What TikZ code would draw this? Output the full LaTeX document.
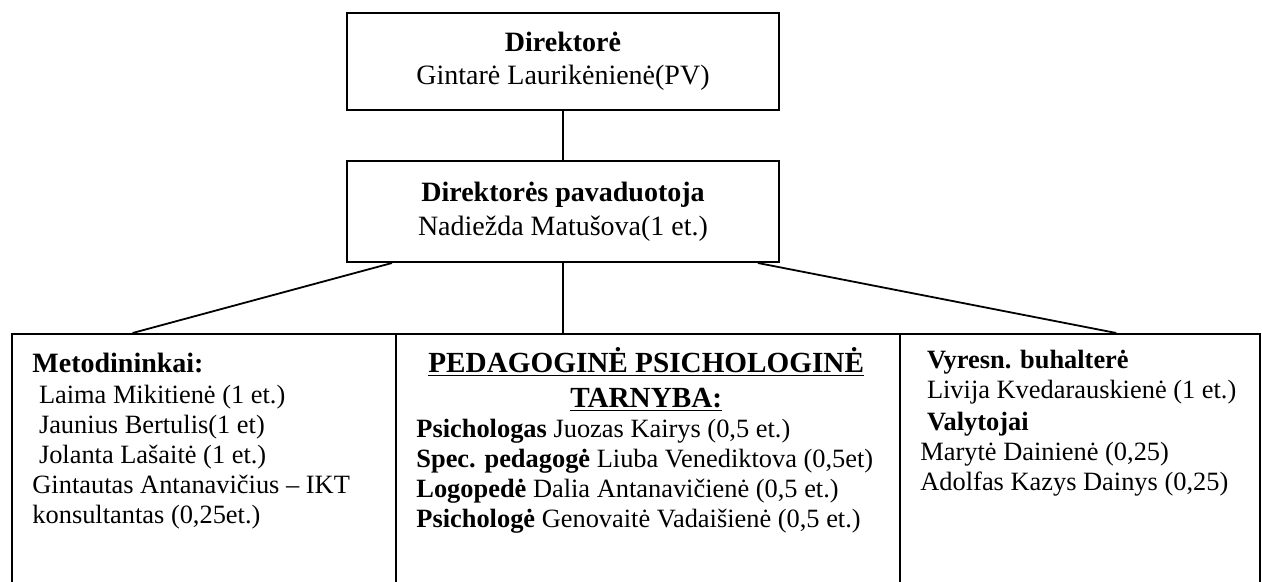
\documentclass[tikz,border=0pt]{standalone}
\usepackage{fontspec}
\setmainfont{Liberation Serif}
\usetikzlibrary{calc}

\tikzset{
  box/.style={draw, line width=1pt, minimum width=216pt, align=center, inner sep=0pt},
  frame/.style={draw, line width=1pt, anchor=north west, minimum height=140pt, inner sep=0pt},
  txt/.style={anchor=base west, inner sep=0pt},
  link/.style={line width=0.9pt}
}
\newcommand{\bodyfont}{\fontsize{13.2pt}{15pt}\selectfont}

\begin{document}
\begin{tikzpicture}[x=0.5pt, y=-0.5pt]
        \useasboundingbox (0,0) rectangle (1262,582);

        % top two boxes
        \node[box, minimum height=48.5pt, font=\fontsize{14pt}{16.5pt}\selectfont] (dir) at (563,61.5)
            {\textbf{Direktorė}\\Gintarė Laurikėnienė(PV)};
        \node[box, minimum height=50.5pt, font=\fontsize{14pt}{17pt}\selectfont] (pav) at (563,211.5)
            {\textbf{Direktorės pavaduotoja}\\Nadiežda Matušova(1 et.)};

        % bottom boxes (cut by the page edge)
        \node[frame, minimum width=192pt] (met) at (11,333) {};
        \node[frame, minimum width=252pt] (ppt) at (395,333) {};
        \node[frame, minimum width=180pt] (ukis) at (899,333) {};

        \node[txt, font=\bodyfont] (metT) at (32,372) {%
            \begin{tabular}[t]{@{}l@{}}
            {\fontsize{14pt}{15pt}\selectfont\textbf{Metodininkai:}}\\[0.5pt]
            \ Laima Mikitienė (1 et.)\\
            \ Jaunius Bertulis(1 et)\\
            \ Jolanta Lašaitė (1 et.)\\
            Gintautas Antanavičius – IKT\\
            konsultantas (0,25et.)
            \end{tabular}};

        \node[txt, font=\bodyfont] (pptT) at (416,372) {%
            \begin{tabular}[t]{@{}l@{}}
            \multicolumn{1}{c}{\fontsize{14.6pt}{15pt}\selectfont\bfseries\underline{PEDAGOGINĖ PSICHOLOGINĖ}}\\[2.5pt]
            \multicolumn{1}{c}{\fontsize{14.6pt}{15pt}\selectfont\bfseries\underline{TARNYBA:}}\\[0pt]
            \textbf{Psichologas} Juozas Kairys (0,5 et.)\\
            \textbf{Spec. pedagogė} Liuba Venediktova (0,5et)\\
            \textbf{Logopedė} Dalia Antanavičienė (0,5 et.)\\
            \textbf{Psichologė} Genovaitė Vadaišienė (0,5 et.)
            \end{tabular}};

        \node[txt, font=\bodyfont] (ukisT) at (920,368) {%
            \begin{tabular}[t]{@{}l@{}}
            \ \textbf{Vyresn. buhalterė}\\
            \ Livija Kvedarauskienė (1 et.)\\[1pt]
            \ \textbf{Valytojai}\\
            Marytė Dainienė (0,25)\\
            Adolfas Kazys Dainys (0,25)
            \end{tabular}};

        % connectors
        \draw[link] (dir) -- (pav);
        \draw[link] ($(pav.south west)!0.106!(pav.south east)$) -- ($(met.north west)!0.315!(met.north east)$);
        \draw[link] (pav.south) -- (pav.south |- ppt.north);
        \draw[link] ($(pav.south west)!0.949!(pav.south east)$) -- ($(ukis.north west)!0.6!(ukis.north east)$);
\end{tikzpicture}
\end{document}
